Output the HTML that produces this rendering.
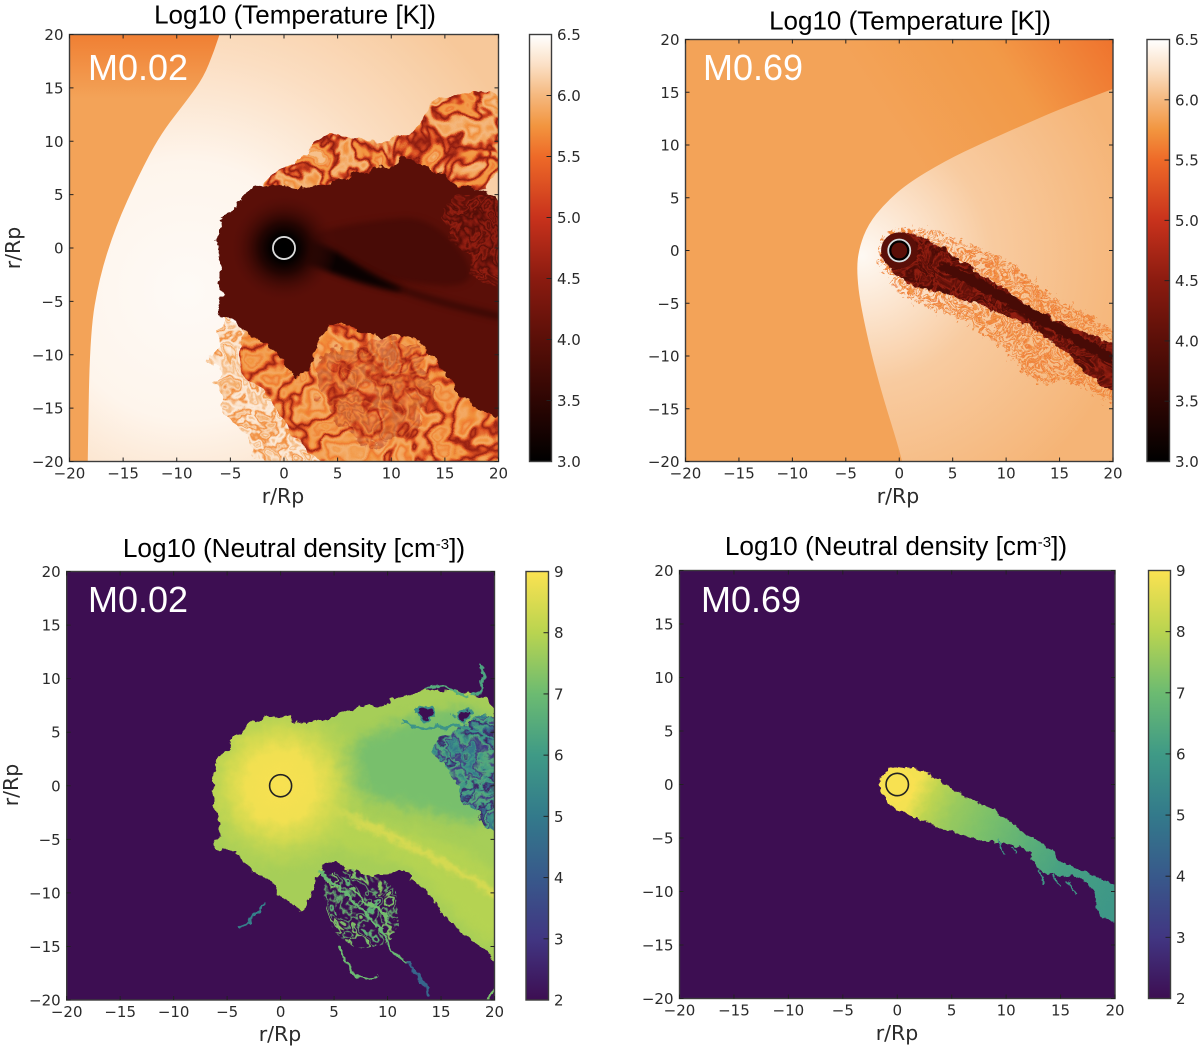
<!DOCTYPE html>
<html lang="en">
<head>
<meta charset="utf-8">
<title>Temperature and neutral density maps</title>
<style>
html,body{margin:0;padding:0;background:#fff;width:1200px;height:1050px;overflow:hidden}
svg{display:block}
.tick{font-family:"DejaVu Sans",sans-serif;font-size:15px;fill:#2a2a2a}
.axis-title{font-family:"DejaVu Sans",sans-serif;font-size:20.5px;fill:#2a2a2a}
.title{font-family:"Liberation Sans",sans-serif;fill:#000;text-anchor:middle}
.model{font-family:"Liberation Sans",sans-serif;font-size:36px;fill:#fff}
</style>
</head>
<body>
<svg id="figure" xmlns="http://www.w3.org/2000/svg" width="1200" height="1050" viewBox="0 0 1200 1050">
  <defs id="defs"></defs>
  <g id="panel-a"></g>
  <g id="panel-b"></g>
  <g id="panel-c"></g>
  <g id="panel-d"></g>

  <text class="title" font-size="26" x="295" y="23.5">Log10 (Temperature [K])</text>
  <text class="title" font-size="26" x="910" y="29.5">Log10 (Temperature [K])</text>
  <text class="title" font-size="26.2" x="294" y="557">Log10 (Neutral density [cm<tspan dy="-8" font-size="15">-3</tspan><tspan dy="8">])</tspan></text>
  <text class="title" font-size="26.2" x="896" y="555">Log10 (Neutral density [cm<tspan dy="-8" font-size="15">-3</tspan><tspan dy="8">])</tspan></text>

  <text class="model" x="88" y="80">M0.02</text>
  <text class="model" x="703" y="80">M0.69</text>
  <text class="model" x="88" y="612">M0.02</text>
  <text class="model" x="701" y="612">M0.69</text>

  <text class="axis-title" x="283" y="503" text-anchor="middle">r/Rp</text>
  <text class="axis-title" x="898" y="503" text-anchor="middle">r/Rp</text>
  <text class="axis-title" x="280" y="1041" text-anchor="middle">r/Rp</text>
  <text class="axis-title" x="897" y="1040" text-anchor="middle">r/Rp</text>
  <text class="axis-title" transform="translate(20,248) rotate(-90)" text-anchor="middle">r/Rp</text>
  <text class="axis-title" transform="translate(18,785) rotate(-90)" text-anchor="middle">r/Rp</text>
</svg>

<script>
/* ---------- axis ticks ---------- */
const axisTicks = [-20, -15, -10, -5, 0, 5, 10, 15, 20];
const tempBarTicks = [3.0, 3.5, 4.0, 4.5, 5.0, 5.5, 6.0, 6.5];
const densBarTicks = [2, 3, 4, 5, 6, 7, 8, 9];

/* ---------- colour scales: field value -> colour ---------- */
const tempLevels = [3.0, 3.5, 4.0, 4.5, 5.0, 5.5, 5.75, 6.0, 6.25, 6.5];
const tempColors = ['#000000', '#2e0603', '#5a0f08', '#8b1b10', '#c8321c', '#ee6a28', '#f2953f', '#f5b87e', '#fbe0c5', '#ffffff'];
const densLevels = [2, 3, 4, 5, 6, 7, 8, 9];
const densColors = ['#3d0e52', '#413682', '#38598b', '#337a8b', '#3f9a86', '#6cbb71', '#b9d450', '#fbe251'];

/* ---------- M0.02 temperature: contours in r/Rp, levels in log10 T ---------- */
const aWindEdge = [[-18.3,-21],[-18.3,-20],[-18.1,-8],[-17.2,-2.7],[-15.7,2],[-13.6,6.7],[-11.5,10.7],[-9,13.9],[-7.5,16],[-6.5,18.5],[-5.7,21],[-5.7,21],[-21,21],[-21,21],[-21,-21],[-21,-21]];
const aWindValues = [5.85, 5.85, 5.62];
const aWindHeights = [0, 17, 20];
const aShockRadii = [0, 12, 22, 34];
const aShockValues = [6.46, 6.42, 6.24, 6.1];
const aPaleMix = [[-6.6,-6.4],[-5.7,-9.5],[-7.1,-10.8],[-5.4,-13.3],[-5.4,-15.5],[-3.6,-17.7],[-1.4,-21],[5,-21],[4,-14],[0,-8]];
const aLowerMix = [[-4.5,-8],[-3.5,-12],[-1.5,-14],[1,-17],[2.5,-21],[21,-21],[21,-14],[14,-6],[0,-6]];
const aDarkMix = [[3,-9],[12,-8.5],[14,-12],[13,-17],[7,-19],[3,-15]];
const aUpperMix = [[-3.6,5.6],[-0.7,7.3],[2.1,8.5],[3.2,10.4],[5.7,11],[6.8,9.8],[9.3,9.5],[12.1,11],[13.6,12.9],[16,15.1],[17.9,14.8],[21,14.2],[21,4.5],[2.1,3.9]];
const aCore = [[-6.25,2.3],[-4.3,3.9],[-3.75,5.1],[-1.4,6.2],[2.1,5.4],[5.7,6.7],[9.3,7.5],[11.8,8.7],[12.5,7.6],[14.6,7],[16.4,5.7],[21,4.8],[21,-16.5],[20,-16.1],[16.4,-13.9],[13.9,-9.9],[11.1,-7.7],[9.3,-8.6],[5.7,-7.1],[3.9,-6.9],[2.9,-9.9],[2.1,-12],[0.7,-11.7],[-1.4,-8.9],[-3.6,-8],[-4.6,-6.7],[-6.25,-6.4],[-5.5,-4.9],[-6.4,-1.1]];
const aRedPatch = [[14.6,3.9],[16.4,4.8],[21,4.8],[21,-3.9],[19.3,-3.9],[17.9,-2.7],[16.4,0.1],[14.6,2.6]];
const aShadow = [[1.5,1.2],[8,2.6],[14,3],[19,-3.8],[10,-3.2],[5,-1.2]];
const aWake = [[1,1],[4,0.3],[8,-2.4],[12,-4.3],[8,-3.6],[3.5,-2],[1,-1]];
const aStreak = [[6,-1.6],[10,-3.6],[15,-5.2],[20,-6.4]];
const aCoreValue = 4.0;
const aShadowValue = 3.8;
const aWakeValue = 3.1;
const aStreakValue = 3.6;
const aGlowRadii = [0, 1.2, 2.4, 5];
const aGlowValues = [3.0, 3.02, 3.4, 3.95];
const paleMixLevels = [6.35, 6.1, 6.3, 5.9, 6.2, 5.7, 6.25, 6.35, 6.0, 6.3, 5.8, 6.2, 6.35];
const lowerMixLevels = [5.9, 5.75, 5.85, 5.65, 5.85, 5.75, 5.3, 4.6, 5.3, 5.8, 5.9, 5.75, 5.6, 5.85, 5.95, 5.8, 5.9];
const darkMixLevels = [5.3, 4.9, 4.5, 5.4, 4.6, 5.1, 5.6, 4.6, 5.0, 5.5, 4.8];
const upperMixLevels = [6.05, 5.8, 5.9, 5.6, 5.8, 5.75, 5.2, 4.5, 5.2, 5.85, 6.0, 5.85, 5.7, 5.9, 6.05];
const redMixLevels = [4.2, 4.5, 4.0, 4.6, 4.3, 3.9, 4.6, 4.2, 4.0, 4.5, 4.2];

/* ---------- M0.69 temperature ---------- */
const bWindVectorValues = [5.85, 5.78, 5.55];
const bShock = [[0.35,-21],[0.35,-20],[-2.1,-12],[-3.6,-5.4],[-4,-1.9],[-3.75,0.3],[-2.9,2.5],[-1.4,4.4],[0.7,6.3],[4.3,8.5],[7.9,10.25],[11.4,11.8],[15,13.4],[21,15.7],[21,15.7],[21,-21],[21,-21]];
const bShockRadii = [0, 5, 12, 26];
const bShockValues = [6.45, 6.3, 6.12, 5.97];
const bHalo = [[-2.1,-0.95],[-1.4,1.6],[0.7,2.2],[3.2,1.9],[6.1,0.6],[7.9,0],[11.4,-1.6],[13.2,-3.8],[16.8,-5.7],[21,-8],[21,-15.5],[16.1,-12],[13.2,-13],[9.7,-9.1],[6.1,-6.6],[1.8,-5],[-0.4,-3.5]];
const bTail = [[-1.6,-0.3],[-1.25,1.1],[0.35,1.9],[2.5,1.3],[6.1,-1.3],[9.7,-3.5],[13.2,-6],[16.8,-7.6],[21,-9.1],[21,-14],[17.9,-12],[15,-9.1],[11.4,-6.6],[7.9,-5.4],[4.3,-4.1],[0.7,-3.2],[-1.4,-1.3]];
const bSpine = [[4,-1.4],[8,-3.4],[12,-5.8],[16,-8],[20,-10.4]];
const bHaloLevels = [5.4, 5.6, 5.8, 5.3, 5.6, 5.8, 5.4, 5.2, 5.6];
const bTailLevels = [4.1, 4.4, 4.0, 4.2, 4.6, 4.0, 3.8, 4.2, 4.1];
const bHeadValue = 4.0;
const bSpineValue = 3.8;

/* ---------- M0.02 neutral density: contours in r/Rp, levels in log10 n ---------- */
const cBody = [[-6.2,2.4],[-3.7,5],[-2.25,6.1],[-1.2,7.1],[2.4,5.5],[6,7.1],[9.5,7.6],[11.7,8.7],[14.2,9],[17.4,8.7],[21,7.6],[21,-16.6],[20,-16.2],[18.1,-14.6],[15.6,-12.8],[14.2,-10.2],[11.7,-8],[9.5,-8.3],[7,-8.3],[4.9,-6.8],[3.5,-7.7],[2.75,-10.2],[2.4,-12.1],[0.6,-10.9],[-1.2,-8.7],[-3.3,-7.1],[-4.75,-5.5],[-6.4,-6.5],[-5.5,-3.6],[-6.4,-1.1]];
const cBodyValue = 7.75;
const cUpperWedge = [[3.5,1.5],[10,6],[21,8],[21,-4.5],[12,-2],[6,-0.6]];
const cUpperValue = 7.15;
const cBluePatch = [[14.6,4.2],[17,6],[21,7],[21,-4.5],[19.5,-4],[17.5,-2],[16,0.5],[14.6,2.4]];
const cHoles = [[[12.6,7.6],[14.6,7.3],[14.2,6],[12.8,6.1]],[[16.2,7],[18.2,7.1],[17.5,6],[16.4,6.1]]];
const cHoleValue = 2;
const cHoleRim = 5.6;
const cLowerPlume = [[1,-2.5],[8,-3],[21,-7],[21,-16],[16,-12],[12,-7],[5,-6]];
const cLowerValue = 7.95;
const cStreak = [[3,-1],[6.5,-3],[10,-4.6],[15,-7],[21,-10.6]];
const cStreakValue = 8.6;
const cGlowRadii = [0, 3.2, 5, 8.5];
const cGlowValues = [8.95, 8.85, 8.35, 7.9];
const cWisps = [[[18.5,11.2],[19.4,10.6],[18.6,9.8],[19.2,8.9],[18,8.4]],[[13.5,9.2],[15,9.4],[16.5,8.8],[17.5,8.4]],[[11.5,6],[13,5.2],[15,5.6],[17,5.5],[20,4.4]],[[3.6,-8],[6,-10],[8,-12],[9.5,-13.5],[10.2,-15.5],[12,-16.5]],[[5.5,-15],[6.5,-17.5],[8,-18.1],[9,-17.8]],[[6.6,-9.5],[8,-11],[9.5,-11.5],[10,-13]],[[-1.3,-11],[-3,-12.8],[-4,-13.2]],[[12,-16.5],[13,-18],[14,-19.5]],[[19,-20.5],[20,-19]]];
const cWispValues = [6.3, 6.5, 5.8, 6.9, 7.0, 7.1, 5.2, 4.4, 7.2];
const cFilaments = [[3.2,-7.4],[10.8,-8.4],[11,-15.2],[5,-15]];
const cPatchLevels = [5.5, 6.3, 4.5, 2.4, 5.8, 6.5, 3, 6, 4.8, 6.2, 2.6];
const cFilamentLevels = [7, 6.4, 7.4, 6.8, 7.2, 6.6, 7.1];

/* ---------- M0.69 neutral density ---------- */
const dTail = [[-1.7,-0.3],[-1.25,0.95],[0.5,1.8],[2.6,1.3],[4.35,0],[7.2,-1.6],[9.6,-2.8],[11.4,-4.4],[14.2,-6],[14.9,-7.3],[17.3,-8.2],[21,-9.8],[21,-13.6],[20,-13.1],[18,-11.7],[18.4,-10.1],[16.6,-8.5],[14.2,-8.5],[12.8,-7.9],[12.1,-6],[9.3,-5.4],[6.5,-5],[3.6,-3.8],[0.14,-2.5],[-1.25,-1.3]];
const dProfileValues = [8.9, 8.1, 7.6, 7.2, 6.6, 6.2, 5.9];
const dProfileOffsets = [0.07, 0.15, 0.25, 0.4, 0.6, 0.75, 1];
const dGlowRadii = [0, 1.2, 2.4];
const dGlowValues = [8.98, 8.95, 8.5];
const dDrips = [[[9.3,-5.2],[9.8,-6.5]],[[10.7,-5.8],[11,-6.5]],[[13,-8],[13.5,-9.2]],[[14.2,-8.5],[15,-9.5]],[[15.5,-9],[16.5,-10.2]]];
const dDripValue = 6.0;

/* ---------- layout ---------- */
const SVGNS = 'http://www.w3.org/2000/svg';
const frames = {
  a: {x0: 69.5, x1: 498.5, y0: 34.5, y1: 461.5, bx0: 529.5, bx1: 551.5},
  b: {x0: 685.5, x1: 1113, y0: 39.5, y1: 461.5, bx0: 1147, bx1: 1169.5},
  c: {x0: 66.7, x1: 494.5, y0: 571.5, y1: 1000, bx0: 526, bx1: 548.5},
  d: {x0: 679.5, x1: 1115, y0: 570.5, y1: 998.5, bx0: 1148.5, bx1: 1170.5}
};
const defs = document.getElementById('defs');

function scaleColor(levels, colors, v) {
  const hex = function (c) { return [1, 3, 5].map(function (i) { return parseInt(c.substr(i, 2), 16); }); };
  if (v <= levels[0]) return colors[0];
  if (v >= levels[levels.length - 1]) return colors[colors.length - 1];
  let i = 0;
  while (v > levels[i + 1]) i++;
  const t = (v - levels[i]) / (levels[i + 1] - levels[i]);
  const a = hex(colors[i]), b = hex(colors[i + 1]);
  return 'rgb(' + a.map(function (c, k) { return Math.round(c + (b[k] - c) * t); }).join(',') + ')';
}
function tempColor(v) { return scaleColor(tempLevels, tempColors, v); }
function densColor(v) { return scaleColor(densLevels, densColors, v); }

function node(parent, tag, attrs, name) {
  const el = document.createElementNS(SVGNS, tag);
  Object.keys(attrs).forEach(function (k) { el.setAttribute(k, attrs[k]); });
  if (name) {
    
    
  }
  parent.appendChild(el);
  return el;
}
function xAxis(f) { return function (v) { return f.x0 + (v + 20) / 40 * (f.x1 - f.x0); }; }
function yAxis(f) { return function (v) { return f.y1 - (v + 20) / 40 * (f.y1 - f.y0); }; }
function radiusAxis(f) { return function (v) { return v / 40 * (f.x1 - f.x0); }; }

function outline(f, pts, closed) {
  const sx = xAxis(f), sy = yAxis(f);
  const p = pts.map(function (q) { return [sx(q[0]), sy(q[1])]; });
  const n = p.length;
  const mid = function (a, b) { return [(a[0] + b[0]) / 2, (a[1] + b[1]) / 2]; };
  let d;
  if (closed) {
    const m0 = mid(p[n - 1], p[0]);
    d = 'M' + m0[0].toFixed(1) + ' ' + m0[1].toFixed(1);
    for (let i = 0; i < n; i++) {
      const m = mid(p[i], p[(i + 1) % n]);
      d += 'Q' + p[i][0].toFixed(1) + ' ' + p[i][1].toFixed(1) + ' ' + m[0].toFixed(1) + ' ' + m[1].toFixed(1);
    }
    return d + 'Z';
  }
  d = 'M' + p[0][0].toFixed(1) + ' ' + p[0][1].toFixed(1);
  for (let i = 1; i < n - 1; i++) {
    const m = mid(p[i], p[i + 1]);
    d += 'Q' + p[i][0].toFixed(1) + ' ' + p[i][1].toFixed(1) + ' ' + m[0].toFixed(1) + ' ' + m[1].toFixed(1);
  }
  return d + 'L' + p[n - 1][0].toFixed(1) + ' ' + p[n - 1][1].toFixed(1);
}

/* ---------- filters ---------- */
function filterBase(id) {
  return node(defs, 'filter', {id: id, filterUnits: 'userSpaceOnUse', x: 0, y: 0, width: 1200, height: 1050, 'color-interpolation-filters': 'sRGB'});
}
function blurFilter(id, s) {
  const f = filterBase(id);
  node(f, 'feGaussianBlur', {stdDeviation: s});
}
function roughFilter(id, freq, scale, seed) {
  const f = filterBase(id);
  node(f, 'feTurbulence', {type: 'fractalNoise', baseFrequency: freq, numOctaves: 4, seed: seed, result: 'n'});
  node(f, 'feDisplacementMap', {in: 'SourceGraphic', in2: 'n', scale: scale, xChannelSelector: 'R', yChannelSelector: 'G'});
}
function marbleFilter(id, levels, colorFn, freq, seed, edge, alphaTable) {
  const f = filterBase(id);
  const rgb = levels.map(function (v) {
    const c = colorFn(v);
    if (c[0] === '#') return [1, 3, 5].map(function (i) { return parseInt(c.substr(i, 2), 16) / 255; });
    return c.slice(4, -1).split(',').map(function (x) { return x / 255; });
  });
  const channel = function (k) { return rgb.map(function (c) { return c[k].toFixed(3); }).join(' '); };
  node(f, 'feTurbulence', {type: 'fractalNoise', baseFrequency: freq, numOctaves: 3, seed: seed, result: 'n'});
  node(f, 'feColorMatrix', {in: 'n', type: 'matrix', values: '1.6 0 0 0 -0.3 1.6 0 0 0 -0.3 1.6 0 0 0 -0.3 1.6 0 0 0 -0.3', result: 'm'});
  const t = node(f, 'feComponentTransfer', {in: 'm', result: 'c0'});
  node(t, 'feFuncR', {type: 'table', tableValues: channel(0)});
  node(t, 'feFuncG', {type: 'table', tableValues: channel(1)});
  node(t, 'feFuncB', {type: 'table', tableValues: channel(2)});
  node(t, 'feFuncA', {type: 'table', tableValues: alphaTable || '1 1'});
  node(f, 'feTurbulence', {type: 'fractalNoise', baseFrequency: freq / 3, numOctaves: 2, seed: seed + 7, result: 'w'});
  node(f, 'feDisplacementMap', {in: 'c0', in2: 'w', scale: 36, xChannelSelector: 'R', yChannelSelector: 'G', result: 'c'});
  node(f, 'feDisplacementMap', {in: 'SourceGraphic', in2: 'n', scale: edge, xChannelSelector: 'G', yChannelSelector: 'R', result: 's'});
  node(f, 'feComposite', {in: 'c', in2: 's', operator: 'in'});
}

blurFilter('blur1', 1);
blurFilter('blur3', 3);
blurFilter('blur6', 6);
roughFilter('rough-a', 0.08, 14, 3);
roughFilter('rough-fine', 0.16, 7, 5);
roughFilter('rough-c', 0.09, 12, 3);
roughFilter('wisp', 0.1, 9, 11);
marbleFilter('mix-pale', paleMixLevels, tempColor, 0.05, 4, 26);
marbleFilter('mix-lower', lowerMixLevels, tempColor, 0.03, 9, 30);
marbleFilter('mix-dark', darkMixLevels, tempColor, 0.05, 19, 30, '0.5 1 1 1 0.5');
marbleFilter('mix-upper', upperMixLevels, tempColor, 0.04, 12, 26);
marbleFilter('mix-red', redMixLevels, tempColor, 0.06, 21, 16);
marbleFilter('mix-halo', bHaloLevels, tempColor, 0.2, 31, 20, '0 0 0 0 1 1 0 0 0');
marbleFilter('mix-tail', bTailLevels, tempColor, 0.1, 33, 10);
marbleFilter('mix-blue', cPatchLevels, densColor, 0.05, 21, 14);
marbleFilter('mix-fil', cFilamentLevels, densColor, 0.06, 15, 10, '0 0 0 0 1 1 0 0 1 0 0 0 1 1 0 0');

/* ---------- gradients ---------- */
function radial(id, f, cx, cy, radii, values, colorFn, fade) {
  const g = node(defs, 'radialGradient', {id: id, gradientUnits: 'userSpaceOnUse', cx: xAxis(f)(cx), cy: yAxis(f)(cy), r: radiusAxis(f)(radii[radii.length - 1])});
  const last = radii[radii.length - 1];
  radii.forEach(function (r, i) {
    const attrs = {offset: r / last, 'stop-color': colorFn(values[i])};
    if (fade && i === radii.length - 1) attrs['stop-opacity'] = 0;
    node(g, 'stop', attrs);
  });
  return 'url(#' + id + ')';
}
function linear(id, f, from, to, offsets, values, colorFn) {
  const g = node(defs, 'linearGradient', {id: id, gradientUnits: 'userSpaceOnUse', x1: xAxis(f)(from[0]), y1: yAxis(f)(from[1]), x2: xAxis(f)(to[0]), y2: yAxis(f)(to[1])});
  offsets.forEach(function (o, i) { node(g, 'stop', {offset: o, 'stop-color': colorFn(values[i])}); });
  return 'url(#' + id + ')';
}

/* ---------- panel scaffolding ---------- */
function plotArea(key, name) {
  const f = frames[key];
  const cp = node(defs, 'clipPath', {id: 'clip-' + key});
  node(cp, 'rect', {x: f.x0, y: f.y0, width: f.x1 - f.x0, height: f.y1 - f.y0});
  const host = document.getElementById('panel-' + key);
  return node(host, 'g', {'clip-path': 'url(#clip-' + key + ')'}, name);
}
function drawAxes(key) {
  const f = frames[key], host = document.getElementById('panel-' + key);
  const sx = xAxis(f), sy = yAxis(f);
  const stroke = '#3c3c3c';
  node(host, 'rect', {x: f.x0, y: f.y0, width: f.x1 - f.x0, height: f.y1 - f.y0, fill: 'none', stroke: stroke, 'stroke-width': 1.4}, 'plot-frame');
  axisTicks.forEach(function (t) {
    const x = sx(t), y = sy(t);
    node(host, 'path', {d: 'M' + x + ' ' + f.y1 + 'v-4M' + x + ' ' + f.y0 + 'v4M' + f.x0 + ' ' + y + 'h4M' + f.x1 + ' ' + y + 'h-4', stroke: '#222', 'stroke-width': 1, fill: 'none'}, 'tick-mark');
    const lab = t < 0 ? '\u2212' + (-t) : String(t);
    const xl = node(host, 'text', {class: 'tick', x: x, y: f.y1 + 17, 'text-anchor': 'middle'}, 'x-tick-label');
    xl.textContent = lab;
    const yl = node(host, 'text', {class: 'tick', x: f.x0 - 6, y: y + 5.5, 'text-anchor': 'end'}, 'y-tick-label');
    yl.textContent = lab;
  });
}
function drawColorbar(key, ticks, levels, colors, decimals) {
  const f = frames[key], host = document.getElementById('panel-' + key);
  const lo = levels[0], hi = levels[levels.length - 1];
  const id = 'bar-' + key;
  const g = node(defs, 'linearGradient', {id: id, x1: 0, y1: 1, x2: 0, y2: 0});
  levels.forEach(function (v, i) { node(g, 'stop', {offset: (v - lo) / (hi - lo), 'stop-color': colors[i]}); });
  node(host, 'rect', {x: f.bx0, y: f.y0, width: f.bx1 - f.bx0, height: f.y1 - f.y0, fill: 'url(#' + id + ')', stroke: '#3c3c3c', 'stroke-width': 1.4}, 'colorbar');
  ticks.forEach(function (t) {
    const y = f.y1 - (t - lo) / (hi - lo) * (f.y1 - f.y0);
    if (t !== lo && t !== hi) node(host, 'path', {d: 'M' + f.bx1 + ' ' + y + 'h-5', stroke: '#222', 'stroke-width': 1}, 'colorbar-tick');
    const lab = node(host, 'text', {class: 'tick', x: f.bx1 + 5.5, y: y + 5.5}, 'colorbar-tick-label');
    lab.textContent = t.toFixed(decimals);
  });
}
function planet(area, f, stroke, fill, width) {
  return node(area, 'circle', {cx: xAxis(f)(0), cy: yAxis(f)(0), r: radiusAxis(f)(1.03), fill: fill, stroke: stroke, 'stroke-width': width}, 'planet-outline');
}

/* ---------- panel A ---------- */
(function () {
  const f = frames.a, area = plotArea('a', 'temperature-map-m002');
  node(area, 'rect', {x: f.x0, y: f.y0, width: f.x1 - f.x0, height: f.y1 - f.y0, fill: radial('a-shock', f, -9, -4, aShockRadii, aShockValues, tempColor)}, 'shocked-wind-region');
  const wind = linear('a-wind', f, [0, aWindHeights[0] - 20], [0, aWindHeights[2]], aWindHeights.map(function (h) { return h / aWindHeights[2]; }), aWindValues, tempColor);
  node(area, 'path', {d: outline(f, aWindEdge, true), fill: wind}, 'stellar-wind-region');
  node(area, 'path', {d: outline(f, aPaleMix, true), fill: '#fff', filter: 'url(#mix-pale)'}, 'pale-mixing-layer');
  node(area, 'path', {d: outline(f, aLowerMix, true), fill: '#fff', filter: 'url(#mix-lower)'}, 'lower-mixing-layer');
  node(area, 'path', {d: outline(f, aDarkMix, true), fill: '#fff', filter: 'url(#mix-dark)', opacity: 0.45}, 'dark-mixing-layer');
  node(area, 'path', {d: outline(f, aUpperMix, true), fill: '#fff', filter: 'url(#mix-upper)'}, 'upper-mixing-layer');
  node(area, 'path', {d: outline(f, aCore, true), fill: tempColor(aCoreValue), filter: 'url(#rough-a)'}, 'cold-planetary-outflow');
  node(area, 'path', {d: outline(f, aRedPatch, true), fill: '#fff', filter: 'url(#mix-red)'}, 'tail-mixing-patch');
  node(area, 'path', {d: outline(f, aShadow, true), fill: tempColor(aShadowValue), filter: 'url(#blur3)'}, 'tail-shadow');
  node(area, 'path', {d: outline(f, aStreak, false), fill: 'none', stroke: tempColor(aStreakValue), 'stroke-width': 6, 'stroke-linecap': 'round', filter: 'url(#blur3)'}, 'cold-streak');
  node(area, 'path', {d: outline(f, aWake, true), fill: tempColor(aWakeValue), filter: 'url(#blur3)'}, 'cold-wake');
  node(area, 'circle', {cx: xAxis(f)(0), cy: yAxis(f)(0), r: radiusAxis(f)(aGlowRadii[3]), fill: radial('a-glow', f, 0, 0, aGlowRadii, aGlowValues, tempColor, true)}, 'planet-cold-core');
  planet(area, f, '#dcdcdc', 'none', 1.8);
  drawAxes('a');
  drawColorbar('a', tempBarTicks, tempLevels, tempColors, 1);
})();

/* ---------- panel B ---------- */
(function () {
  const f = frames.b, area = plotArea('b', 'temperature-map-m069');
  node(area, 'rect', {x: f.x0, y: f.y0, width: f.x1 - f.x0, height: f.y1 - f.y0, fill: linear('b-wind', f, [2, 8], [20, 20], [0, 0.55, 1], bWindVectorValues, tempColor)}, 'stellar-wind-region');
  node(area, 'path', {d: outline(f, bShock, true), fill: radial('b-shock', f, -3.5, -0.5, bShockRadii, bShockValues, tempColor)}, 'shocked-wind-region');
  node(area, 'path', {d: outline(f, bHalo, true), fill: '#fff', filter: 'url(#mix-halo)'}, 'tail-mixing-halo');
  node(area, 'path', {d: outline(f, bTail, true), fill: '#fff', filter: 'url(#mix-tail)'}, 'cold-tail');
  node(area, 'path', {d: outline(f, bSpine, false), fill: 'none', stroke: tempColor(bSpineValue), 'stroke-width': 10, filter: 'url(#rough-fine)'}, 'tail-spine');
  node(area, 'circle', {cx: xAxis(f)(0), cy: yAxis(f)(0), r: radiusAxis(f)(1.7), fill: tempColor(bHeadValue)}, 'planet-cold-head');
  node(area, 'circle', {cx: xAxis(f)(0), cy: yAxis(f)(0), r: radiusAxis(f)(0.85), fill: tempColor(bHeadValue), stroke: '#000', 'stroke-width': 2.4}, 'planet-interior');
  planet(area, f, '#d8dfe0', 'none', 1.8);
  drawAxes('b');
  drawColorbar('b', tempBarTicks, tempLevels, tempColors, 1);
})();

/* ---------- panel C ---------- */
(function () {
  const f = frames.c, area = plotArea('c', 'density-map-m002');
  node(area, 'rect', {x: f.x0, y: f.y0, width: f.x1 - f.x0, height: f.y1 - f.y0, fill: densColor(2)}, 'density-floor');
  const cp = node(defs, 'clipPath', {id: 'clip-c-body'});
  node(cp, 'path', {d: outline(f, cBody, true)});
  const rough = node(area, 'g', {filter: 'url(#rough-c)'}, 'neutral-outflow');
  const body = node(rough, 'g', {'clip-path': 'url(#clip-c-body)'});
  node(body, 'path', {d: outline(f, cBody, true), fill: densColor(cBodyValue)}, 'outflow-body');
  node(body, 'path', {d: outline(f, cUpperWedge, true), fill: densColor(cUpperValue), filter: 'url(#blur6)'}, 'upper-outflow-wedge');
  node(body, 'path', {d: outline(f, cLowerPlume, true), fill: densColor(cLowerValue), filter: 'url(#blur6)'}, 'lower-plume');
  node(body, 'path', {d: outline(f, cStreak, false), fill: 'none', stroke: densColor(cStreakValue), 'stroke-width': 6, filter: 'url(#blur3)'}, 'dense-streak');
  node(body, 'circle', {cx: xAxis(f)(0), cy: yAxis(f)(0), r: radiusAxis(f)(cGlowRadii[3]), fill: radial('c-glow', f, 0, 0, cGlowRadii, cGlowValues, densColor, true)}, 'planet-dense-core');
  node(rough, 'path', {d: outline(f, cBluePatch, true), fill: '#fff', filter: 'url(#mix-blue)'}, 'thin-mixing-patch');
  cHoles.forEach(function (h) {
    node(rough, 'path', {d: outline(f, h, true), fill: densColor(cHoleValue), stroke: densColor(cHoleRim), 'stroke-width': 2}, 'outflow-hole');
  });
  node(area, 'path', {d: outline(f, cFilaments, true), fill: '#fff', filter: 'url(#mix-fil)'}, 'filament-patch');
  const wisps = node(area, 'g', {filter: 'url(#wisp)'}, 'neutral-filaments');
  cWisps.forEach(function (w, i) {
    node(wisps, 'path', {d: outline(f, w, false), fill: 'none', stroke: densColor(cWispValues[i]), 'stroke-width': 2.5, 'stroke-linecap': 'round'}, 'filament');
  });
  planet(area, f, '#222', 'none', 1.6);
  drawAxes('c');
  drawColorbar('c', densBarTicks, densLevels, densColors, 0);
})();

/* ---------- panel D ---------- */
(function () {
  const f = frames.d, area = plotArea('d', 'density-map-m069');
  node(area, 'rect', {x: f.x0, y: f.y0, width: f.x1 - f.x0, height: f.y1 - f.y0, fill: densColor(2)}, 'density-floor');
  const tail = node(area, 'g', {filter: 'url(#rough-fine)'}, 'neutral-tail');
  const fill = linear('d-tail', f, [0, 0], [20, -10], dProfileOffsets, dProfileValues, densColor);
  node(tail, 'path', {d: outline(f, dTail, true), fill: fill}, 'tail-body');
  dDrips.forEach(function (w) {
    node(tail, 'path', {d: outline(f, w, false), fill: 'none', stroke: densColor(dDripValue), 'stroke-width': 1.6}, 'tail-drip');
  });
  node(tail, 'circle', {cx: xAxis(f)(0), cy: yAxis(f)(0), r: radiusAxis(f)(1.6), fill: densColor(dGlowValues[1])}, 'planet-dense-core');
  planet(area, f, '#222', 'none', 1.6);
  drawAxes('d');
  drawColorbar('d', densBarTicks, densLevels, densColors, 0);
})();
</script>
</body>
</html>
